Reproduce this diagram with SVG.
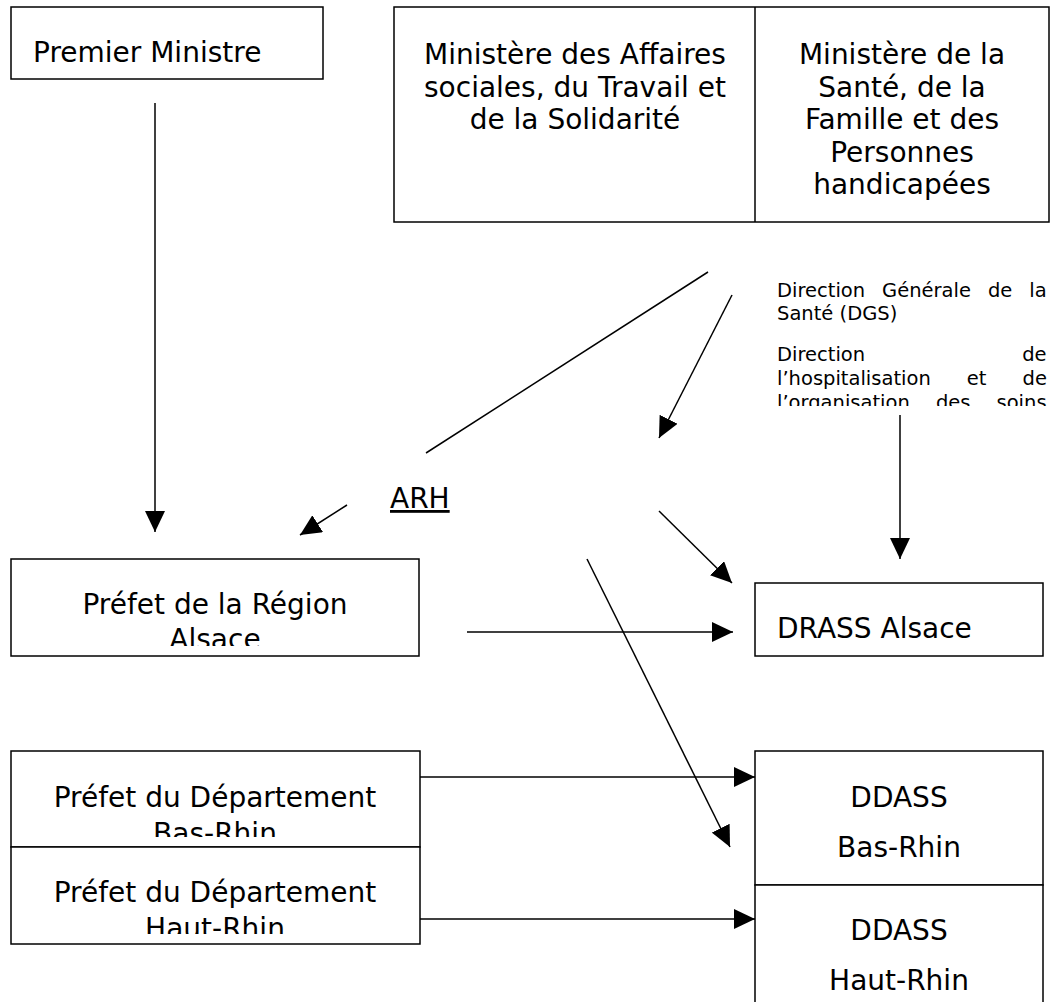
<svg xmlns="http://www.w3.org/2000/svg" width="1052" height="1002" viewBox="0 0 1052 1002">
<defs>
<style>
.box{fill:#fff;stroke:#000;stroke-width:1.5}
.t{font-family:"DejaVu Sans",sans-serif;font-size:28px;fill:#000}
.c{text-anchor:middle}
.s{font-family:"DejaVu Sans",sans-serif;font-size:19.5px;fill:#000}
.ln{stroke:#000;stroke-width:1.5;fill:none}
.ar{marker-end:url(#ah)}
</style>
<marker id="ah" markerUnits="userSpaceOnUse" markerWidth="22" markerHeight="20" refX="21" refY="10" orient="auto" viewBox="0 0 22 20"><path d="M0,0 L21,10 L0,20 z" fill="#000"/></marker>
<clipPath id="cR"><rect x="11" y="559" width="408" height="87"/></clipPath>
<clipPath id="cB"><rect x="11" y="751" width="409" height="86"/></clipPath>
<clipPath id="cH"><rect x="11" y="847" width="409" height="87"/></clipPath>
<clipPath id="cD"><rect x="770" y="380" width="282" height="26"/></clipPath>
</defs>
<rect width="1052" height="1002" fill="#fff"/>

<g id="premier-ministre">
<rect class="box" x="11" y="7" width="312" height="72"/>
<text class="t" x="33" y="62">Premier Ministre</text>
</g>

<g id="ministeres">
<rect class="box" x="394" y="7" width="655" height="215"/>
<line class="ln" x1="755" y1="7" x2="755" y2="222"/>
<text class="t c" x="575" y="64">Ministère des Affaires</text>
<text class="t c" x="575" y="97">sociales, du Travail et</text>
<text class="t c" x="575" y="129">de la Solidarité</text>
<text class="t c" x="902" y="64">Ministère de la</text>
<text class="t c" x="902" y="97">Santé, de la</text>
<text class="t c" x="902" y="129">Famille et des</text>
<text class="t c" x="902" y="162">Personnes</text>
<text class="t c" x="902" y="194">handicapées</text>
</g>

<g id="directions">
<text class="s" x="777" y="297" word-spacing="10.8">Direction Générale de la</text>
<text class="s" x="777" y="320">Santé (DGS)</text>
<text class="s" x="777" y="361" word-spacing="150.9">Direction de</text>
<text class="s" x="777" y="385" word-spacing="29.9">l’hospitalisation et de</text>
<text class="s" x="777" y="409" word-spacing="19.9" clip-path="url(#cD)">l’organisation des soins</text>
</g>

<g id="arh">
<text class="t" x="390" y="508" text-decoration="underline">ARH</text>
</g>

<g id="prefet-region">
<rect class="box" x="11" y="559" width="408" height="97"/>
<text class="t c" x="215" y="614">Préfet de la Région</text>
<text class="t c" x="215" y="649" clip-path="url(#cR)">Alsace</text>
</g>

<g id="drass">
<rect class="box" x="755" y="583" width="288" height="73"/>
<text class="t" x="777" y="638">DRASS Alsace</text>
</g>

<g id="prefet-bas-rhin">
<rect class="box" x="11" y="751" width="409" height="96"/>
<text class="t c" x="215" y="807">Préfet du Département</text>
<text class="t c" x="215" y="843" clip-path="url(#cB)">Bas-Rhin</text>
</g>

<g id="prefet-haut-rhin">
<rect class="box" x="11" y="847" width="409" height="97"/>
<text class="t c" x="215" y="902">Préfet du Département</text>
<text class="t c" x="215" y="938" clip-path="url(#cH)">Haut-Rhin</text>
</g>

<g id="ddass-bas-rhin">
<rect class="box" x="755" y="751" width="288" height="134"/>
<text class="t c" x="899" y="807">DDASS</text>
<text class="t c" x="899" y="857">Bas-Rhin</text>
</g>

<g id="ddass-haut-rhin">
<rect class="box" x="755" y="885" width="288" height="130"/>
<text class="t c" x="899" y="940">DDASS</text>
<text class="t c" x="899" y="990">Haut-Rhin</text>
</g>

<g id="connectors">
<path class="ln ar" d="M155,103 V532"/>
<path class="ln" d="M708,272 L426,453"/>
<path class="ln ar" d="M347,505 L300,535"/>
<path class="ln ar" d="M732,295 L659,438"/>
<path class="ln ar" d="M900,415 V559"/>
<path class="ln ar" d="M659,511 L732,583"/>
<path class="ln ar" d="M467,632 H733"/>
<path class="ln ar" d="M587,559 L730,847"/>
<path class="ln ar" d="M420,777 H755"/>
<path class="ln ar" d="M420,919 H755"/>
</g>
</svg>
